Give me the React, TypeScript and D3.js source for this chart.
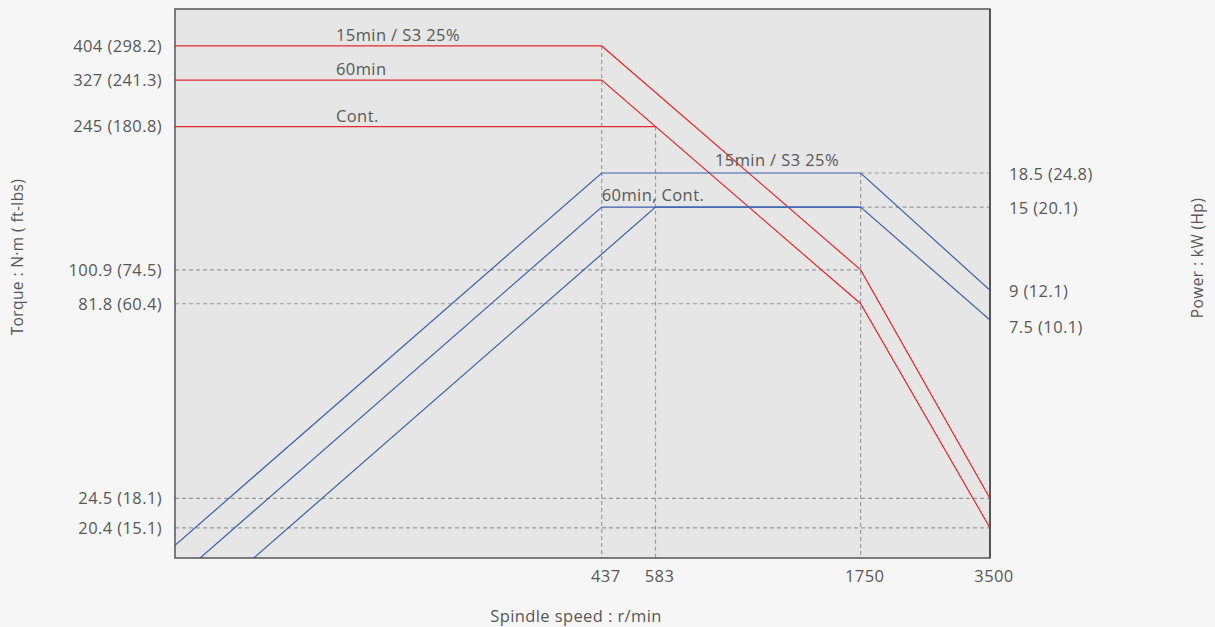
import React from "react";
import * as d3 from "d3";

const speedTicks = [437, 583, 1750, 3500];
const torqueTicks = [404, 327, 245, 100.9, 81.8, 24.5, 20.4];
const torqueTickLabels = ["404 (298.2)", "327 (241.3)", "245 (180.8)", "100.9 (74.5)", "81.8 (60.4)", "24.5 (18.1)", "20.4 (15.1)"];
const powerTicks = [18.5, 15, 9, 7.5];
const powerTickLabels = ["18.5 (24.8)", "15 (20.1)", "9 (12.1)", "7.5 (10.1)"];

const torque15: [number, number][] = [[44.4, 404], [437, 404], [1750, 100.9], [3500, 24.5]];
const torque60: [number, number][] = [[44.4, 327], [437, 327], [1750, 81.8], [3500, 20.4]];
const torqueCont: [number, number][] = [[44.4, 245], [583, 245]];
const power15: [number, number][] = [[44.4, 1.88], [437, 18.5], [1750, 18.5], [3500, 9]];
const power60: [number, number][] = [[44.4, 1.52], [437, 15], [1750, 15], [3500, 7.5]];
const powerCont: [number, number][] = [[44.4, 1.14], [583, 15], [1750, 15]];

const W = 1215, H = 627;
const L = 175, R = 990, T = 9, B = 558;
const FONT = "'Open Sans', sans-serif";
const TXT = "#585858";
const RED = "#e8282c";
const BLUE = "#3d5fae";
const GRID = "#9a9a9a";
const FS = 16.5;
const LS = 0.4;

export default function App() {
  const x = d3.scaleLog().domain([44.4, 3500]).range([L, R]);
  const yT = d3.scaleLog().domain([16.93, 508]).range([B, T]);
  const yP = d3.scaleLog().domain([1.739, 50.66]).range([B, T]);
  const lineT = d3.line<[number, number]>().x(d => x(d[0])).y(d => yT(d[1]));
  const lineP = d3.line<[number, number]>().x(d => x(d[0])).y(d => yP(d[1]));

  const dash = { stroke: GRID, strokeWidth: 1.2, strokeDasharray: "4,3", fill: "none" } as const;

  return (
    <svg width={W} height={H} style={{ position: "absolute", left: 0, top: 0, background: "#f6f6f6" }} fontFamily={FONT} letterSpacing={LS}>
      <defs>
        <clipPath id="plot"><rect x={L} y={T} width={R - L} height={B - T} /></clipPath>
      </defs>
      <rect x={0} y={0} width={W} height={H} fill="#f6f6f6" />
      <rect x={L} y={T} width={R - L} height={B - T} fill="#e6e6e6" />

      {/* dashed guides */}
      <line x1={x(437)} x2={x(437)} y1={yT(404)} y2={B} {...dash} />
      <line x1={x(583)} x2={x(583)} y1={yT(245)} y2={B} {...dash} />
      <line x1={x(1750)} x2={x(1750)} y1={yP(18.5)} y2={B} {...dash} />
      <line x1={L} x2={x(1750)} y1={yT(100.9)} y2={yT(100.9)} {...dash} />
      <line x1={L} x2={x(1750)} y1={yT(81.8)} y2={yT(81.8)} {...dash} />
      <line x1={L} x2={R} y1={yT(24.5)} y2={yT(24.5)} {...dash} />
      <line x1={L} x2={R} y1={yT(20.4)} y2={yT(20.4)} {...dash} />
      <line x1={x(1750)} x2={R} y1={yP(18.5)} y2={yP(18.5)} {...dash} />
      <line x1={x(1750)} x2={R} y1={yP(15)} y2={yP(15)} {...dash} />

      <g clipPath="url(#plot)" fill="none" strokeWidth={1.2}>
        <path d={lineT(torque15) || ""} stroke={RED} />
        <path d={lineT(torque60) || ""} stroke={RED} />
        <path d={lineT(torqueCont) || ""} stroke={RED} />
        <path d={lineP(power15) || ""} stroke={BLUE} />
        <path d={lineP(power60) || ""} stroke={BLUE} />
        <path d={lineP(powerCont) || ""} stroke={BLUE} />
      </g>

      <rect x={L} y={T} width={R - L} height={B - T} fill="none" stroke="#555" strokeWidth={1.5} />
      <line x1={R} x2={R} y1={T} y2={B} stroke="#555" strokeWidth={2} />

      {/* curve labels */}
      <g fill={TXT} fontSize={FS}>
        <text x={336} y={yT(404) - 5}>15min / S3 25%</text>
        <text x={336} y={yT(327) - 5}>60min</text>
        <text x={336} y={yT(245) - 5}>Cont.</text>
        <text x={715} y={yP(18.5) - 7}>15min / S3 25%</text>
        <text x={x(437)} y={yP(15) - 6}>60min, Cont.</text>
      </g>

      {/* left ticks */}
      <g fill={TXT} fontSize={FS} textAnchor="end">
        {torqueTicks.map((v, i) => (
          <text key={i} x={162} y={yT(v)} dy="0.35em">{torqueTickLabels[i]}</text>
        ))}
      </g>
      {/* right ticks */}
      <g fill={TXT} fontSize={FS}>
        {powerTicks.map((v, i) => (
          <text key={i} x={1009} y={yP(v) + (v === 7.5 ? 7 : 1)} dy="0.35em">{powerTickLabels[i]}</text>
        ))}
      </g>
      {/* bottom ticks */}
      <g fill={TXT} fontSize={FS} textAnchor="middle">
        {speedTicks.map((v, i) => (
          <text key={i} x={x(v) + 4} y={582}>{v}</text>
        ))}
      </g>

      <text x={576} y={622} fill={TXT} fontSize={FS} textAnchor="middle">Spindle speed : r/min</text>
      <text transform={`translate(23,257) rotate(-90)`} fill={TXT} fontSize={15.5} textAnchor="middle">Torque : N·m ( ft-lbs)</text>
      <text transform={`translate(1203,258) rotate(-90)`} fill={TXT} fontSize={15.5} textAnchor="middle">Power : kW (Hp)</text>
    </svg>
  );
}
